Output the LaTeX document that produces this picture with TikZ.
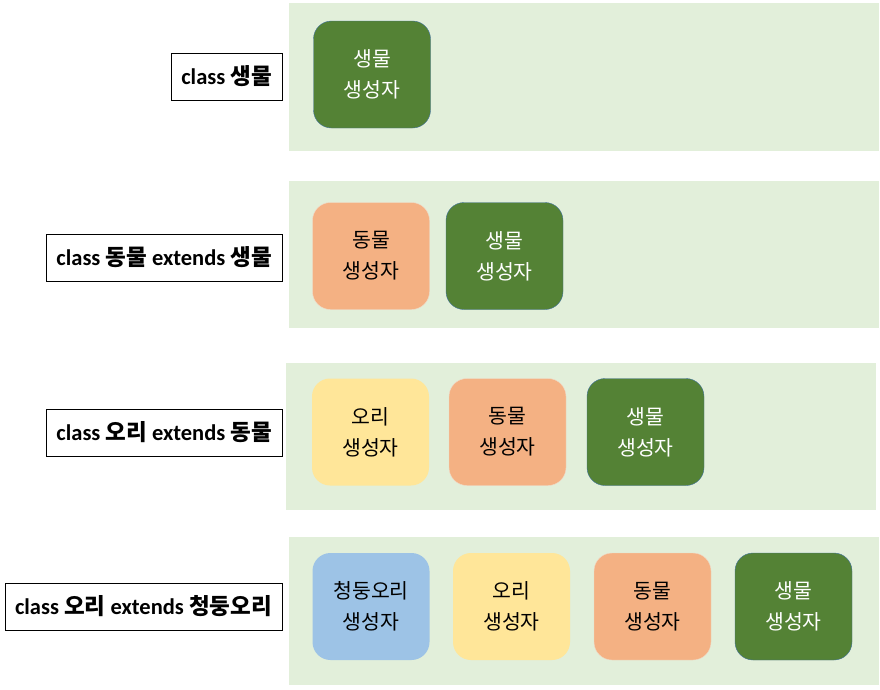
\documentclass[tikz,border=0pt]{standalone}
\usepackage{fontspec}
\setmainfont{Carlito}
\newfontfamily\kr{Noto Sans CJK KR}
\definecolor{rowbg}{HTML}{E2EFDA}
\definecolor{lifegreen}{HTML}{548235}
\definecolor{lifeline}{HTML}{41719C}
\definecolor{animalorange}{HTML}{F4B183}
\definecolor{duckyellow}{HTML}{FFE699}
\definecolor{tealblue}{HTML}{9DC3E6}
\begin{document}
\begin{tikzpicture}[
        x=1pt, y=-1pt,
        rowband/.style={fill=rowbg},
        ctor/.style={rectangle, rounded corners=18pt, minimum width=117pt, minimum height=107pt,
          align=center, font=\kr\fontsize{20.5}{31}\selectfont, text=black},
        life/.style={ctor, fill=lifegreen, draw=lifeline, text=white},
        animal/.style={ctor, fill=animalorange, draw=animalorange!90!black!40},
        duck/.style={ctor, fill=duckyellow},
        teal/.style={ctor, fill=tealblue},
        classname/.style={rectangle, draw, thin, anchor=east, minimum height=47pt, inner xsep=10pt,
          font=\bfseries\fontsize{22.5}{24}\selectfont}
        ]
      \useasboundingbox (0,0) rectangle (880,689);
      % bands
      \fill[rowband] (289,3) rectangle (879,151);
      \fill[rowband] (289,181) rectangle (879,328);
      \fill[rowband] (286,363) rectangle (876,510);
      \fill[rowband] (289,537) rectangle (879,685);

      % class 생물
      \node[classname] (c1) at (282,76.5) {class {\kr\bfseries 생물}};
      \node[life] (l1) at (372,74.5) {생물\\생성자};

      % class 동물
      \node[classname] (c2) at (282,257.5) {class {\kr\bfseries 동물} extends {\kr\bfseries 생물}};
      \node[animal] (a2) at (371,256) {동물\\생성자};
      \node[life] (l2) at (504.5,256) {생물\\생성자};

      % class 오리
      \node[classname] (c3) at (282,432.5) {class {\kr\bfseries 오리} extends {\kr\bfseries 동물}};
      \node[duck] (d3) at (370.5,432) {오리\\생성자};
      \node[animal] (a3) at (507.5,432) {동물\\생성자};
      \node[life] (l3) at (645.5,432) {생물\\생성자};

      % class 청둥오리
      \node[classname] (c4) at (282,606.5) {class {\kr\bfseries 오리} extends {\kr\bfseries 청둥오리}};
      \node[teal] (t4) at (371,606.5) {청둥오리\\생성자};
      \node[duck] (d4) at (511.5,606.5) {오리\\생성자};
      \node[animal] (a4) at (652.5,606.5) {동물\\생성자};
      \node[life] (l4) at (793.5,606.5) {생물\\생성자};

    \end{tikzpicture}
\end{document}
